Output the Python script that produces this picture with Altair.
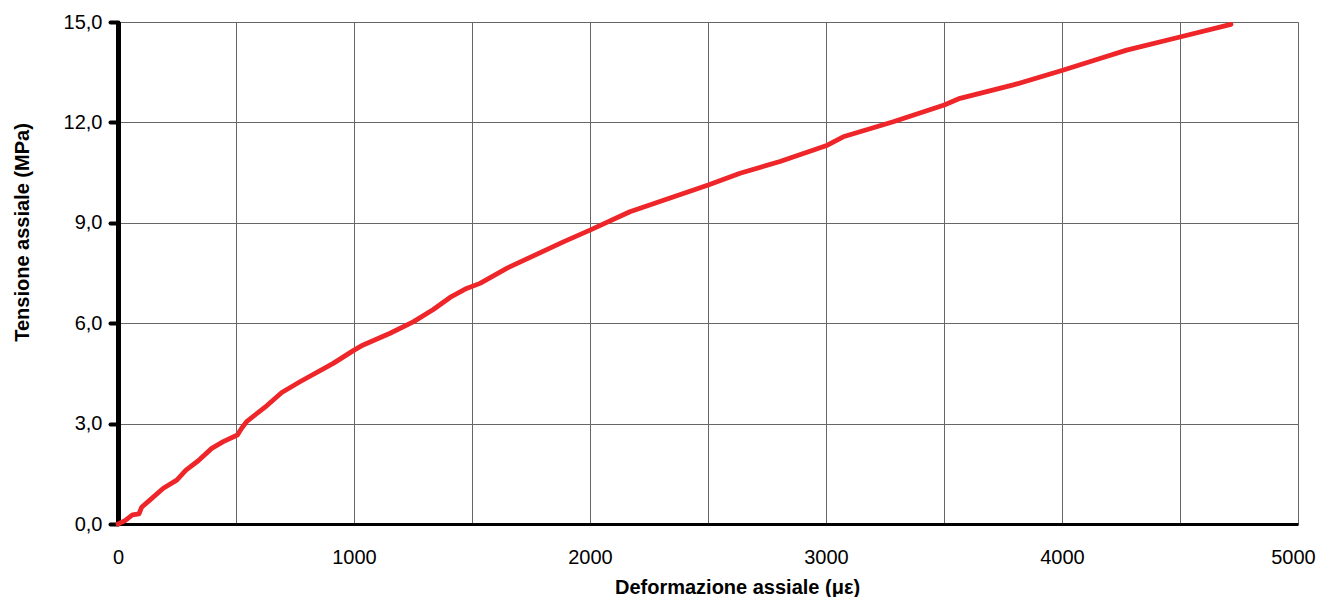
import altair as alt
import pandas as pd

strain = [0, 30, 61, 89, 100, 136, 192, 249, 288, 340, 397, 446, 506, 524, 545,
          623, 694, 771, 912, 997, 1039, 1153, 1251, 1336, 1407, 1477, 1534, 1647,
          1887, 2000, 2169, 2501, 2636, 2805, 3000, 3073, 3285, 3501, 3568, 3794,
          4003, 4161, 4274, 4504, 4716]
stress = [0, 0.1, 0.27, 0.3, 0.5, 0.72, 1.07, 1.31, 1.61, 1.89, 2.26, 2.46, 2.66,
          2.86, 3.06, 3.49, 3.93, 4.25, 4.80, 5.18, 5.35, 5.70, 6.04, 6.41, 6.77,
          7.04, 7.19, 7.64, 8.43, 8.78, 9.33, 10.13, 10.48, 10.83, 11.3, 11.57,
          12.02, 12.52, 12.72, 13.12, 13.56, 13.91, 14.16, 14.56, 14.93]
x_grid = [0, 500, 1000, 1500, 2000, 2500, 3000, 3500, 4000, 4500, 5000]
y_ticks = [0, 3, 6, 9, 12, 15]

df = pd.DataFrame({"strain": strain, "stress": stress, "order": list(range(len(strain)))})

FONT = "Liberation Sans"

chart = alt.Chart(df).mark_line(
    color="#EE2529", strokeWidth=4.8, strokeCap="round", strokeJoin="round"
).encode(
    x=alt.X("strain:Q",
            scale=alt.Scale(domain=[0, 5000], nice=False, zero=True),
            axis=alt.Axis(
                values=x_grid,
                title="Deformazione assiale (με)",
                labelExpr="datum.value % 1000 == 0 ? datum.value + '' : ''",
                ticks=False,
                labelPadding=23,
                labelFontSize=20,
                labelFont=FONT,
                labelColor="#000",
                labelFlush=False,
                labelOverlap=False,
                labelOffset={"condition": {"test": "datum.value == 5000", "value": -5}, "value": 0},
                titleFont=FONT,
                titleFontSize=20,
                titleFontWeight="bold",
                titleColor="#000",
                titleX=619,
                titleY=53,
                titleAlign="center",
                titleBaseline="top",
                domainColor="#000",
                domainWidth=3,
                gridColor="#666",
                gridWidth=1,
                gridOpacity=1,
            )),
    y=alt.Y("stress:Q",
            scale=alt.Scale(domain=[0, 15], nice=False, zero=True),
            axis=alt.Axis(
                values=y_ticks,
                title="Tensione assiale (MPa)",
                labelExpr="replace(format(datum.value, '.1f'), '.', ',')",
                tickSize=8,
                tickWidth=4,
                tickCap="round",
                tickColor="#000",
                labelPadding=8,
                labelFontSize=20,
                labelFont=FONT,
                labelColor="#000",
                labelFlush=False,
                labelOverlap=False,
                titleFont=FONT,
                titleFontSize=20,
                titleFontWeight="bold",
                titleColor="#000",
                titleX=-86,
                titleY=210,
                titleAngle=270,
                titleAlign="center",
                titleBaseline="bottom",
                domainColor="#000",
                domainWidth=5,
                gridColor="#666",
                gridWidth=1,
                gridOpacity=1,
            )),
    order="order:Q",
).properties(
    width=1180,
    height=502,
    autosize=alt.AutoSizeParams(type="none"),
    padding={"left": 110, "top": 14, "right": 18, "bottom": 76},
).configure_view(
    stroke="#222", strokeWidth=2.5, fill="white"
).configure(background="white")

chart.save("out.html", embed_options={"renderer": "svg", "actions": False})
